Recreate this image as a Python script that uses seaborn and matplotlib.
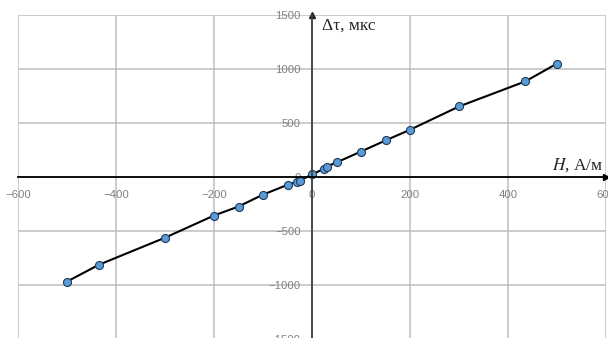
import seaborn as sns
import matplotlib.pyplot as plt
import pandas as pd

# measured points: field H (A/m) vs delay change (us)
H = [-500, -435, -300, -200, -150, -100, -50, -30, -25, 0, 25, 30, 50, 100, 150, 200, 300, 435, 500]
dtau = [-965, -810, -560, -355, -272, -162, -72, -42, -33, 24, 78, 97, 135, 236, 338, 437, 652, 883, 1048]
x_ticks = [-600, -400, -200, 0, 200, 400, 600]
y_ticks = [-1500, -1000, -500, 0, 500, 1000, 1500]

df = pd.DataFrame({'H': H, 'dtau': dtau})

sns.set_style('white')
plt.rcParams['font.family'] = ['Liberation Sans', 'DejaVu Sans']
plt.rcParams['mathtext.fontset'] = 'stix'

fig = plt.figure(figsize=(6.08, 3.38), dpi=100)
ax = fig.add_axes([18 / 608, -0.0044, 588 / 608, 0.961])

ax.grid(True, color='#bfbfbf', linewidth=1.1)
ax.set_axisbelow(True)

sns.lineplot(data=df, x='H', y='dtau', ax=ax, color='black', linewidth=1.5,
             marker='o', markersize=5.8, markerfacecolor='#5b9bd5',
             markeredgecolor='#1f3b5c', markeredgewidth=0.8, sort=True)

ax.set_xlim(-600, 600)
ax.set_ylim(-1500, 1500)
ax.set_xticks(x_ticks)
ax.set_yticks(y_ticks)
ax.set_xlabel('')
ax.set_ylabel('')

# excel-like axes crossing at zero
ax.spines['left'].set_position('zero')
ax.spines['bottom'].set_position('zero')
ax.spines['right'].set_visible(False)
ax.spines['top'].set_visible(False)
ax.spines['left'].set_color('#404040')
ax.spines['bottom'].set_color('black')
ax.spines['left'].set_linewidth(1.3)
ax.spines['bottom'].set_linewidth(1.3)
ax.tick_params(axis='both', length=0, labelsize=8.2, labelcolor='#808080')
ax.tick_params(axis='x', pad=9)
ax.tick_params(axis='y', pad=8)

# arrow heads
ax.plot(1, 0, '>', color='black', markersize=5, transform=ax.get_yaxis_transform(), clip_on=False)
ax.plot(0, 1, '^', color='#202020', markersize=5, transform=ax.get_xaxis_transform(), clip_on=False)

ax.text(0.517, 0.965, 'Δτ, мкс', transform=ax.transAxes, ha='left', va='center',
        fontsize=12.5, family=['Liberation Serif', 'DejaVu Serif'])
ax.text(0.995, 0.537, '$H$, А/м', transform=ax.transAxes, ha='right', va='center',
        fontsize=12.5, family=['Liberation Serif', 'DejaVu Serif'])

fig.savefig('out.png', dpi=100)
